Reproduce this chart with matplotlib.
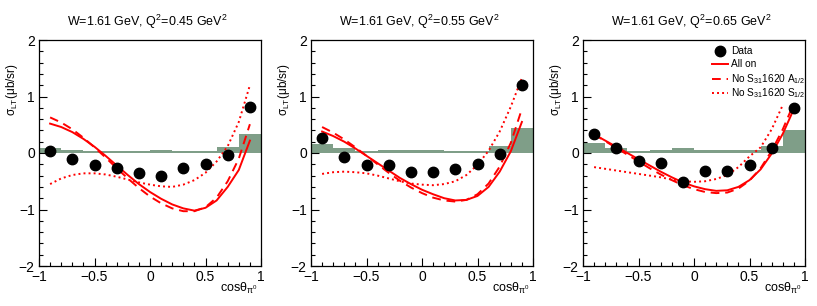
import matplotlib
matplotlib.use("Agg")
import matplotlib.pyplot as plt
import numpy as np
from matplotlib.ticker import MultipleLocator

plt.rcParams['font.family'] = ['Liberation Sans', 'DejaVu Sans']
plt.rcParams['mathtext.fontset'] = 'custom'
plt.rcParams['mathtext.rm'] = 'Liberation Sans'
plt.rcParams['mathtext.it'] = 'Liberation Sans'
plt.rcParams['mathtext.bf'] = 'Liberation Sans:bold'

# data
q2_values = ["0.45", "0.55", "0.65"]
cos_data = [-0.9, -0.7, -0.5, -0.3, -0.1, 0.1, 0.3, 0.5, 0.7, 0.9]
sigma_data = [
    [0.03, -0.10, -0.22, -0.26, -0.36, -0.41, -0.27, -0.19, -0.04, 0.82],
    [0.26, -0.07, -0.22, -0.22, -0.33, -0.33, -0.28, -0.19, -0.01, 1.20],
    [0.34, 0.09, -0.15, -0.18, -0.51, -0.31, -0.31, -0.21, 0.08, 0.80],
]

# systematic band (histogram, bins of 0.2 from -1 to 1)
sys_edges = [-1.0, -0.8, -0.6, -0.4, -0.2, 0.0, 0.2, 0.4, 0.6, 0.8, 1.0]
sys_err = [
    [0.08, 0.06, 0.035, 0.04, 0.04, 0.05, 0.035, 0.035, 0.10, 0.34],
    [0.16, 0.08, 0.04, 0.06, 0.05, 0.05, 0.04, 0.04, 0.13, 0.45],
    [0.18, 0.09, 0.04, 0.05, 0.09, 0.06, 0.05, 0.05, 0.13, 0.40],
]

# model curves read at cos = -0.9 ... 0.9
cos_curve = [-0.9, -0.8, -0.7, -0.6, -0.5, -0.4, -0.3, -0.2, -0.1, 0.0,
             0.1, 0.2, 0.3, 0.4, 0.5, 0.6, 0.7, 0.8, 0.9]
all_on = [
    [0.52, 0.46, 0.37, 0.25, 0.11, -0.05, -0.22, -0.39, -0.55, -0.69,
     -0.81, -0.91, -0.98, -1.02, -0.97, -0.84, -0.60, -0.30, 0.22],
    [0.38, 0.30, 0.20, 0.08, -0.05, -0.18, -0.31, -0.44, -0.55, -0.65,
     -0.73, -0.80, -0.84, -0.83, -0.76, -0.60, -0.33, 0.03, 0.55],
    [0.33, 0.22, 0.11, 0.0, -0.11, -0.22, -0.33, -0.43, -0.52, -0.59,
     -0.64, -0.67, -0.66, -0.60, -0.48, -0.29, -0.01, 0.34, 0.78],
]
no_a12 = [
    [0.63, 0.54, 0.42, 0.27, 0.10, -0.08, -0.27, -0.45, -0.62, -0.77,
     -0.89, -0.98, -1.03, -1.03, -0.96, -0.79, -0.50, -0.10, 0.51],
    [0.46, 0.36, 0.24, 0.10, -0.05, -0.20, -0.35, -0.49, -0.61, -0.71,
     -0.79, -0.84, -0.86, -0.83, -0.73, -0.54, -0.24, 0.18, 0.78],
    [0.33, 0.21, 0.09, -0.03, -0.15, -0.27, -0.38, -0.48, -0.57, -0.64,
     -0.69, -0.71, -0.70, -0.63, -0.49, -0.27, 0.04, 0.42, 0.88],
]
no_s12 = [
    [-0.55, -0.45, -0.39, -0.36, -0.36, -0.38, -0.42, -0.47, -0.52, -0.56,
     -0.59, -0.60, -0.56, -0.48, -0.35, -0.15, 0.12, 0.55, 1.20],
    [-0.37, -0.34, -0.33, -0.34, -0.36, -0.40, -0.45, -0.50, -0.54, -0.56,
     -0.57, -0.55, -0.50, -0.39, -0.21, 0.04, 0.38, 0.82, 1.33],
    [-0.25, -0.28, -0.31, -0.34, -0.37, -0.40, -0.43, -0.47, -0.50, -0.51,
     -0.50, -0.46, -0.39, -0.25, -0.06, 0.10, 0.42, 0.85, np.nan],
]

legend_labels = ['Data', 'All on', 'No S$_{31}$1620 A$_{1/2}$',
                 'No S$_{31}$1620 S$_{1/2}$']

band_color = '#7f9e88'
red = '#ff0000'
dash_a = (4.5, 3)
dash_s = (1, 1.6)

fig = plt.figure(figsize=(8.17, 3.06), dpi=100)
lefts = [39, 311, 583]
W, H = 817.0, 306.0

for i in range(3):
    ax = fig.add_axes([lefts[i] / W, 1 - 266 / H, 222 / W, 226 / H])

    # systematics histogram
    ax.stairs(sys_err[i], sys_edges, baseline=0, fill=True,
              color=band_color, lw=0, zorder=1)

    ax.plot(cos_curve, all_on[i], color=red, lw=1.4, zorder=2)
    ax.plot(cos_curve, no_a12[i], color=red, lw=1.4, zorder=2, dashes=dash_a)
    ax.plot(cos_curve, no_s12[i], color=red, lw=1.4, zorder=2, dashes=dash_s)
    ax.plot(cos_data, sigma_data[i], 'o', color='black', ms=7.5, zorder=3)

    ax.set_xlim(-1, 1)
    ax.set_ylim(-2, 2)
    ax.xaxis.set_minor_locator(MultipleLocator(0.1))
    ax.yaxis.set_minor_locator(MultipleLocator(0.2))
    ax.tick_params(which='both', direction='in', top=False, right=False,
                   labelsize=10, width=0.8)
    ax.tick_params(which='major', length=6, pad=3)
    ax.tick_params(which='minor', length=3)
    ax.set_xticks([-1, -0.5, 0, 0.5, 1])
    ax.set_xticklabels(['\u22121', '\u22120.5', '0', '0.5', '1'])
    ax.set_yticks([-2, -1, 0, 1, 2])
    ax.set_yticklabels(['\u22122', '\u22121', '0', '1', '2'])
    for s in ax.spines.values():
        s.set_linewidth(0.9)

    ax.text(0.487, 1.08, 'W=1.61 GeV, Q$^2$=' + q2_values[i] + ' GeV$^2$',
            transform=ax.transAxes, ha='center', va='center', fontsize=9)
    ax.text(-0.12, 0.898, '\u03c3$_{\\rm LT}$(\u03bcb/sr)',
            transform=ax.transAxes, rotation=90, ha='center', va='top',
            fontsize=8.5)
    ax.text(0.986, -0.115, 'cos\u03b8$_{\\pi^{0}}$', transform=ax.transAxes,
            ha='right', va='baseline', fontsize=9)

    if i == 2:
        # legend drawn by hand, ROOT TLegend style
        rows = [0.951, 0.892, 0.826, 0.764]
        tr = ax.transAxes
        ax.plot([0.618], [rows[0]], 'o', color='black', ms=7.5, transform=tr,
                clip_on=False)
        ax.plot([0.58, 0.655], [rows[1]] * 2, color=red, lw=1.4, transform=tr)
        ax.plot([0.58, 0.655], [rows[2]] * 2, color=red, lw=1.4, transform=tr,
                dashes=dash_a)
        ax.plot([0.58, 0.655], [rows[3]] * 2, color=red, lw=1.4, transform=tr,
                dashes=dash_s)
        for r, lab in zip(rows, legend_labels):
            ax.text(0.667, r, lab, transform=tr, ha='left', va='center',
                    fontsize=7.3)

fig.savefig('out.png', dpi=100)
